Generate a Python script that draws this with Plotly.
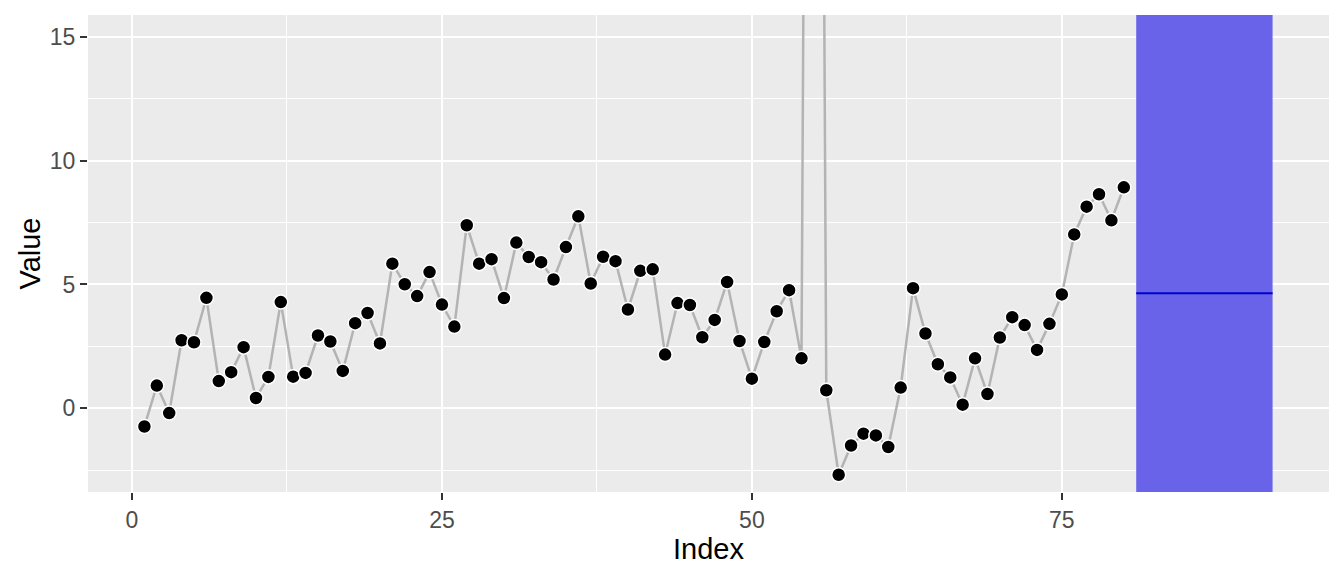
import plotly.graph_objects as go

# ---- data ----
index = list(range(1, 81))
values = [
    -0.73, 0.92, -0.19, 2.75, 2.67, 4.46, 1.10, 1.46, 2.47, 0.42,
    1.27, 4.29, 1.28, 1.43, 2.94, 2.70, 1.51, 3.44, 3.85, 2.62,
    5.84, 5.01, 4.53, 5.50, 4.19, 3.30, 7.39, 5.84, 6.02, 4.45,
    6.69, 6.11, 5.90, 5.20, 6.51, 7.75, 5.04, 6.12, 5.94, 3.99,
    5.55, 5.61, 2.17, 4.25, 4.17, 2.87, 3.57, 5.10, 2.72, 1.20,
    2.68, 3.92, 4.77, 2.02, 95.0, 0.73, -2.68, -1.50, -1.02, -1.09,
    -1.56, 0.84, 4.85, 3.02, 1.78, 1.25, 0.15, 2.02, 0.58, 2.86,
    3.68, 3.36, 2.36, 3.41, 4.60, 7.02, 8.14, 8.64, 7.59, 8.92,
]
forecast_x = [81, 92]
forecast_mean = 4.65

x_ticks = [0, 25, 50, 75]
x_minor = [12.5, 37.5, 62.5, 87.5]
y_ticks = [0, 5, 10, 15]
y_minor = [-2.5, 2.5, 7.5, 12.5]
x_range = [-3.55, 96.55]
y_range = [-3.375, 15.875]

FONT = "Liberation Sans, Arial, sans-serif"

fig = go.Figure()

# line
fig.add_trace(go.Scatter(
    x=index, y=values, mode="lines",
    line=dict(color="#B3B3B3", width=2.5),
    hoverinfo="skip", showlegend=False,
))
# points
fig.add_trace(go.Scatter(
    x=index, y=values, mode="markers",
    marker=dict(color="black", size=14, line=dict(color="white", width=1.5)),
    showlegend=False,
))

# forecast band (full panel height)
fig.add_trace(go.Scatter(
    x=[forecast_x[0], forecast_x[1], forecast_x[1], forecast_x[0], forecast_x[0]],
    y=[y_range[0], y_range[0], y_range[1], y_range[1], y_range[0]],
    mode="lines", fill="toself", fillcolor="#6963EA",
    line=dict(width=0, color="#6963EA"), hoverinfo="skip", showlegend=False,
))
# forecast mean line
fig.add_trace(go.Scatter(
    x=forecast_x, y=[forecast_mean, forecast_mean], mode="lines",
    line=dict(color="#0000CD", width=2), showlegend=False,
))

tickfont = dict(family=FONT, size=23, color="#4D4D4D")
titlefont = dict(family=FONT, size=29, color="black")

fig.update_xaxes(
    range=x_range, tickmode="array", tickvals=x_ticks,
    ticktext=[str(t) for t in x_ticks], tickfont=tickfont,
    showgrid=True, gridcolor="white", gridwidth=2,
    minor=dict(tickmode="array", tickvals=x_minor, showgrid=True,
               gridcolor="white", gridwidth=1, ticks=""),
    zeroline=False, showline=False,
    ticks="outside", ticklen=7, tickwidth=2, tickcolor="#333333",
    title=dict(text="Index", font=titlefont, standoff=3),
)
fig.update_yaxes(
    range=y_range, tickmode="array", tickvals=y_ticks,
    ticktext=[str(t) for t in y_ticks], tickfont=tickfont,
    showgrid=True, gridcolor="white", gridwidth=2,
    minor=dict(tickmode="array", tickvals=y_minor, showgrid=True,
               gridcolor="white", gridwidth=1, ticks=""),
    zeroline=False, showline=False,
    ticks="outside", ticklen=7, tickwidth=2, tickcolor="#333333",
    title=dict(text="Value", font=titlefont, standoff=0),
)

fig.update_layout(
    width=1344, height=576,
    margin=dict(l=88, r=15, t=15, b=84, autoexpand=False),
    plot_bgcolor="#EBEBEB", paper_bgcolor="white",
    showlegend=False,
    font=dict(family=FONT),
)

fig.write_html(
    "out.html",
    config={"displayModeBar": False},
    post_script="document.body.style.margin='0';document.body.style.padding='0';",
)
